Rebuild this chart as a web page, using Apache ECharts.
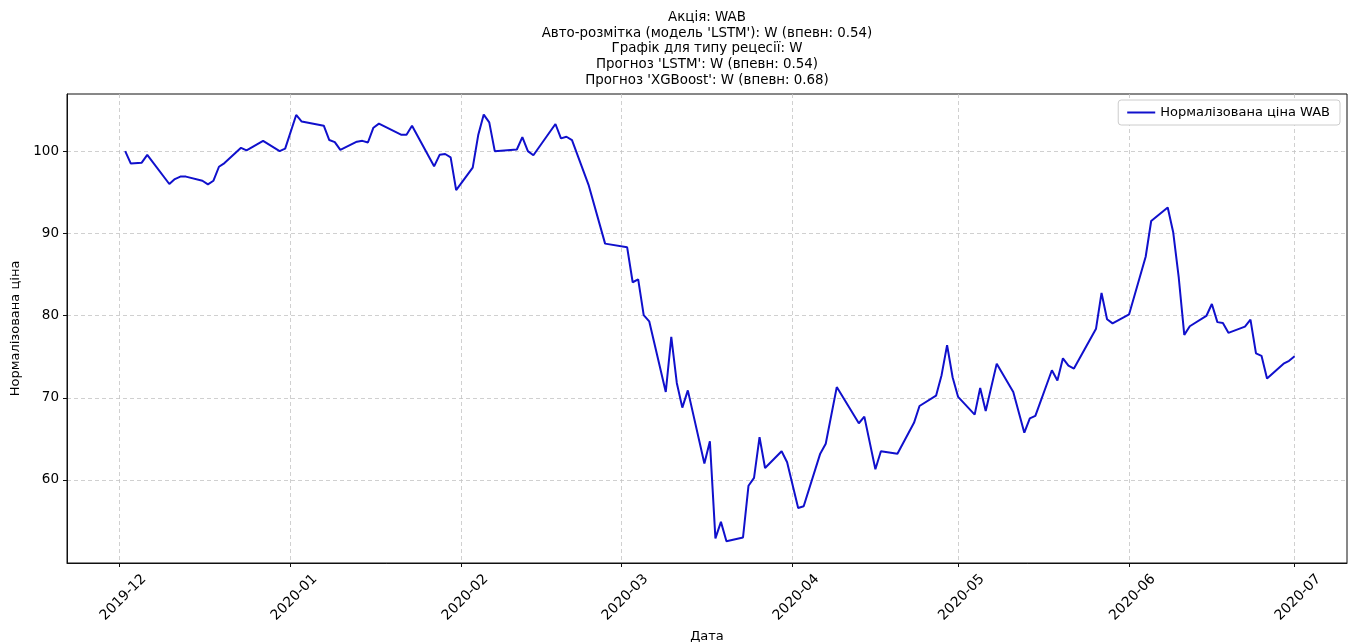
<!DOCTYPE html>
<html>
<head>
<meta charset="utf-8">
<script src="https://cdn.jsdelivr.net/npm/echarts@6/dist/echarts.min.js"></script>
<style>
  html, body { margin: 0; padding: 0; background: #fff; }
  #chart { width: 1363px; height: 642px; }
</style>
</head>
<body>
<div id="chart"></div>
<script>
// trading days where the price line changes direction
const dates = [
  '2019-12-02', '2019-12-03', '2019-12-05', '2019-12-06', '2019-12-10', '2019-12-11',
  '2019-12-12', '2019-12-13', '2019-12-16', '2019-12-17', '2019-12-18', '2019-12-19',
  '2019-12-20', '2019-12-23', '2019-12-24', '2019-12-27', '2019-12-30', '2019-12-31',
  '2020-01-02', '2020-01-03', '2020-01-07', '2020-01-08', '2020-01-09', '2020-01-10',
  '2020-01-13', '2020-01-14', '2020-01-15', '2020-01-16', '2020-01-17', '2020-01-21',
  '2020-01-22', '2020-01-23', '2020-01-27', '2020-01-28', '2020-01-29', '2020-01-30',
  '2020-01-31', '2020-02-03', '2020-02-04', '2020-02-05', '2020-02-06', '2020-02-07',
  '2020-02-11', '2020-02-12', '2020-02-13', '2020-02-14', '2020-02-18', '2020-02-19',
  '2020-02-20', '2020-02-21', '2020-02-24', '2020-02-27', '2020-03-02', '2020-03-03',
  '2020-03-04', '2020-03-05', '2020-03-06', '2020-03-09', '2020-03-10', '2020-03-11',
  '2020-03-12', '2020-03-13', '2020-03-16', '2020-03-17', '2020-03-18', '2020-03-19',
  '2020-03-20', '2020-03-23', '2020-03-24', '2020-03-25', '2020-03-26', '2020-03-27',
  '2020-03-30', '2020-03-31', '2020-04-02', '2020-04-03', '2020-04-06', '2020-04-07',
  '2020-04-09', '2020-04-13', '2020-04-14', '2020-04-16', '2020-04-17', '2020-04-20',
  '2020-04-23', '2020-04-24', '2020-04-27', '2020-04-28', '2020-04-29', '2020-04-30',
  '2020-05-01', '2020-05-04', '2020-05-05', '2020-05-06', '2020-05-08', '2020-05-11',
  '2020-05-13', '2020-05-14', '2020-05-15', '2020-05-18', '2020-05-19', '2020-05-20',
  '2020-05-21', '2020-05-22', '2020-05-26', '2020-05-27', '2020-05-28', '2020-05-29',
  '2020-06-01', '2020-06-04', '2020-06-05', '2020-06-08', '2020-06-09', '2020-06-10',
  '2020-06-11', '2020-06-12', '2020-06-15', '2020-06-16', '2020-06-17', '2020-06-18',
  '2020-06-19', '2020-06-22', '2020-06-23', '2020-06-24', '2020-06-25', '2020-06-26',
  '2020-06-29', '2020-06-30', '2020-07-01'
];

const prices = [
  100.0, 98.5, 98.6, 99.55, 96.0, 96.6,
  96.9, 96.9, 96.4, 95.95, 96.4, 98.1,
  98.55, 100.4, 100.1, 101.25, 100.0, 100.3,
  104.4, 103.6, 103.1, 101.35, 101.1, 100.15,
  101.15, 101.25, 101.05, 102.85, 103.35, 102.0,
  102.0, 103.1, 98.15, 99.55, 99.65, 99.25,
  95.25, 98.0, 101.95, 104.45, 103.5, 100.0,
  100.2, 101.7, 100.0, 99.5, 103.3, 101.55,
  101.75, 101.35, 95.9, 88.75, 88.3, 84.05,
  84.4, 80.05, 79.3, 70.7, 77.4, 71.8,
  68.8, 70.9, 62.0, 64.7, 52.9, 54.9,
  52.55, 53.0, 59.3, 60.25, 65.2, 61.45,
  63.5, 62.15, 56.6, 56.8, 63.2, 64.4,
  71.3, 66.9, 67.7, 61.3, 63.5, 63.2,
  66.95, 69.0, 70.25, 72.75, 76.4, 72.5,
  70.1, 67.95, 71.2, 68.4, 74.15, 70.7,
  65.75, 67.5, 67.8, 73.35, 72.1, 74.8,
  73.9, 73.55, 78.4, 82.75, 79.55, 79.05,
  80.15, 87.15, 91.5, 93.15, 90.1, 84.6,
  77.65, 78.7, 79.95, 81.4, 79.2, 79.1,
  77.9, 78.65, 79.5, 75.4, 75.1, 72.35,
  74.15, 74.5, 75.05
];

const monthTicks = ['2019-12-01', '2020-01-01', '2020-02-01', '2020-03-01',
                    '2020-04-01', '2020-05-01', '2020-06-01', '2020-07-01'];
const yTicks = [60, 70, 80, 90, 100];

const titleLines = [
  'Акція: WAB',
  "Авто-розмітка (модель 'LSTM'): W (впевн: 0.54)",
  'Графік для типу рецесії: W',
  "Прогноз 'LSTM': W (впевн: 0.54)",
  "Прогноз 'XGBoost': W (впевн: 0.68)"
];
const seriesName = 'Нормалізована ціна WAB';

const DAY = 86400000;
const ts = s => {
  const [y, m, d] = s.split('-').map(Number);
  return Date.UTC(y, m - 1, d);
};
const fmtMonth = v => {
  const d = new Date(v);
  return d.getUTCFullYear() + '-' + String(d.getUTCMonth() + 1).padStart(2, '0');
};

const font = 'DejaVu Sans';
const chart = echarts.init(document.getElementById('chart'), null, {renderer: 'canvas'});

chart.setOption({
  animation: false,
  backgroundColor: '#fff',
  textStyle: {fontFamily: font},
  title: {
    text: titleLines.join('\n'),
    left: 707,
    top: 10,
    padding: 0,
    textAlign: 'center',
    textStyle: {fontFamily: font, fontSize: 13.4, fontWeight: 'normal', color: '#000', lineHeight: 15.6}
  },
  legend: {
    data: [seriesName],
    right: 23,
    top: 100,
    padding: [6, 10, 6, 9],
    backgroundColor: '#fff',
    borderColor: '#cccccc',
    borderWidth: 1,
    borderRadius: 3,
    itemWidth: 28,
    itemHeight: 2,
    icon: 'rect',
    textStyle: {fontFamily: font, fontSize: 13, color: '#000'}
  },
  grid: {
    left: 67, right: 16, top: 94, bottom: 79,
    outerBoundsMode: 'none',
    containLabel: false,
    show: true, borderColor: '#111', borderWidth: 1
  },
  // dates are plotted as UTC timestamps on a value axis so the month ticks can be placed exactly
  xAxis: {
    type: 'value',
    min: ts('2019-11-21') + 0.45 * DAY,
    max: ts('2020-07-10') + 0.5 * DAY,
    name: 'Дата',
    nameLocation: 'middle',
    nameGap: 66,
    nameTextStyle: {fontFamily: font, fontSize: 13, color: '#000'},
    axisLine: {show: true, onZero: false, lineStyle: {color: '#111', width: 1}},
    axisTick: {show: true, length: 4, customValues: monthTicks.map(ts), lineStyle: {color: '#111'}},
    axisLabel: {
      customValues: monthTicks.map(ts),
      formatter: fmtMonth,
      rotate: 45,
      align: 'center',
      verticalAlign: 'middle',
      margin: 38,
      padding: [0, 0, 0, 10],
      fontFamily: font, fontSize: 14, color: '#000'
    },
    splitLine: {show: true, lineStyle: {color: '#c4c4c4', type: [4, 3], width: 0.8}}
  },
  yAxis: {
    type: 'value',
    min: 49.9,
    max: 106.95,
    name: 'Нормалізована ціна',
    nameLocation: 'middle',
    nameGap: 44,
    nameTextStyle: {fontFamily: font, fontSize: 13, color: '#000'},
    axisLine: {show: true, onZero: false, lineStyle: {color: '#111', width: 1}},
    axisTick: {show: true, length: 4, customValues: yTicks, lineStyle: {color: '#111'}},
    axisLabel: {customValues: yTicks, margin: 8, fontFamily: font, fontSize: 13.5, color: '#000'},
    splitLine: {show: true, lineStyle: {color: '#c4c4c4', type: [4, 3], width: 0.8}}
  },
  series: [{
    name: seriesName,
    type: 'line',
    data: dates.map((d, i) => [ts(d), prices[i]]),
    showSymbol: false,
    symbol: 'none',
    lineStyle: {color: '#1010cc', width: 2},
    itemStyle: {color: '#1010cc'}
  }]
});
</script>
</body>
</html>
